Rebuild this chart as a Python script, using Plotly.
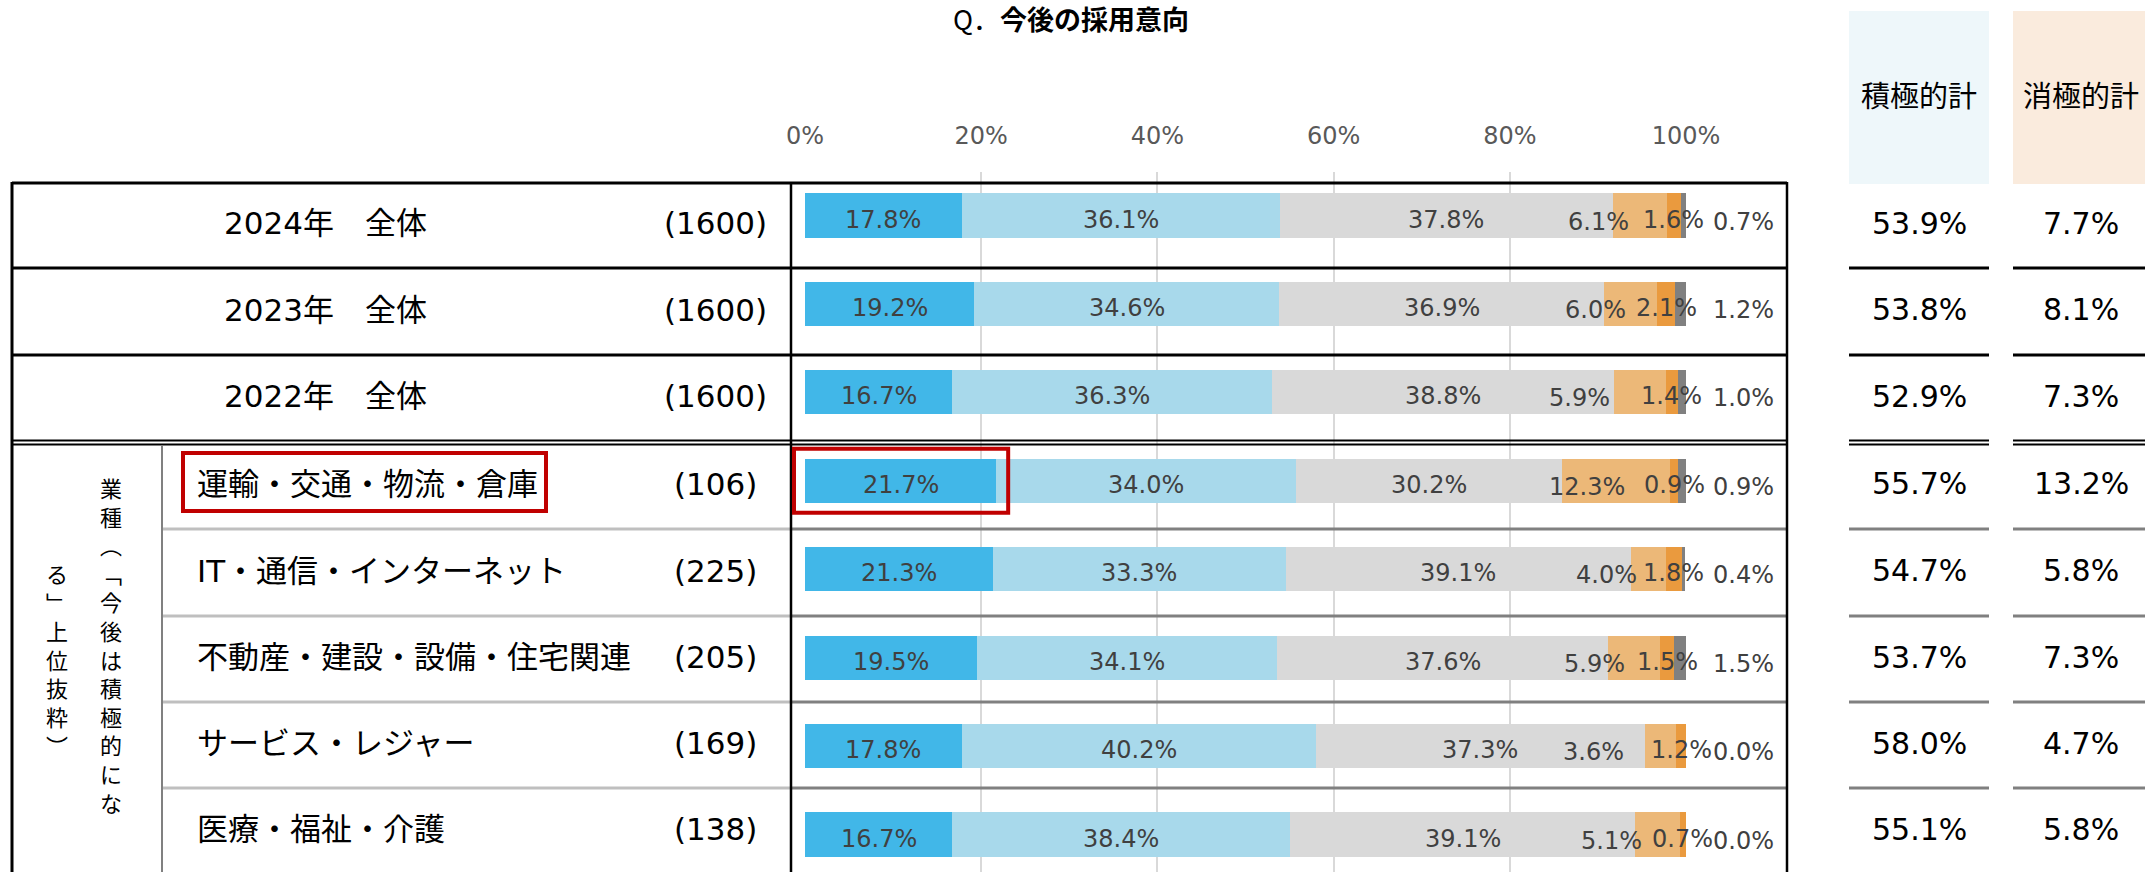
import plotly.graph_objects as go

# ---------------- data ----------------
categories = ["2024年　全体", "2023年　全体", "2022年　全体",
              "運輸・交通・物流・倉庫", "IT・通信・インターネット",
              "不動産・建設・設備・住宅関連", "サービス・レジャー", "医療・福祉・介護"]
sample_n = [1600, 1600, 1600, 106, 225, 205, 169, 138]
series_names = ["積極的に採用したい", "やや積極的に採用したい", "現状維持",
                "やや消極的", "消極的", "採用しない"]
s1 = [17.8, 19.2, 16.7, 21.7, 21.3, 19.5, 17.8, 16.7]
s2 = [36.1, 34.6, 36.3, 34.0, 33.3, 34.1, 40.2, 38.4]
s3 = [37.8, 36.9, 38.8, 30.2, 39.1, 37.6, 37.3, 39.1]
s4 = [6.1, 6.0, 5.9, 12.3, 4.0, 5.9, 3.6, 5.1]
s5 = [1.6, 2.1, 1.4, 0.9, 1.8, 1.5, 1.2, 0.7]
s6 = [0.7, 1.2, 1.0, 0.9, 0.4, 1.5, 0.0, 0.0]
positive_total = [53.9, 53.8, 52.9, 55.7, 54.7, 53.7, 58.0, 55.1]
negative_total = [7.7, 8.1, 7.3, 13.2, 5.8, 7.3, 4.7, 5.8]
tick_values = [0, 20, 40, 60, 80, 100]
tick_labels = ["0%", "20%", "40%", "60%", "80%", "100%"]
title_text = "Q．今後の採用意向"
header_pos = "積極的計"
header_neg = "消極的計"
group_label_col1 = ["業", "種", "︵", "﹁", "今", "後", "は", "積", "極", "的", "に", "な"]
group_label_col2 = ["る", "﹂", "上", "位", "抜", "粋", "︶"]

# ---------------- styles ----------------
W, H = 2145, 872
colors = ["#41B7E8", "#A8D9EB", "#D9D9D9", "#ECB878", "#EA9A3E", "#808080"]
NUM = "DejaVu Sans, Noto Sans CJK JP, sans-serif"
JP = "Noto Sans CJK JP, DejaVu Sans, sans-serif"
LBL = "#404040"
X0_PX, X100_PX = 805, 1686
PLOT_TOP = 172
seg4_nudge = [-41, -35, -60, -29, -42, -40, -67, -46]


def px(x):
    return x / W


def py(y):
    return 1 - y / H


def xpix(v):
    return X0_PX + v * (X100_PX - X0_PX) / 100.0


series = [s1, s2, s3, s4, s5, s6]
idx = list(range(len(categories)))

fig = go.Figure()
for name, vals, col in zip(series_names, series, colors):
    fig.add_trace(go.Bar(
        x=vals, y=idx, orientation="h", name=name, width=0.5,
        marker=dict(color=col, line=dict(width=0)), hoverinfo="skip"))

ann = []


def A(**kw):
    kw.setdefault("showarrow", False)
    kw.setdefault("xanchor", "center")
    kw.setdefault("yanchor", "middle")
    ann.append(kw)


# bar labels
for i in idx:
    cum = 0.0
    starts = []
    for s in series:
        starts.append(cum)
        cum += s[i]
    for k in range(3):
        A(x=starts[k] + series[k][i] / 2, y=i, xref="x", yref="y",
          text=f"{series[k][i]:.1f}%", font=dict(family=NUM, size=24, color=LBL), yshift=-4)
    A(x=starts[3] + s4[i] / 2, y=i, xref="x", yref="y", text=f"{s4[i]:.1f}%",
      xshift=seg4_nudge[i], font=dict(family=NUM, size=24, color=LBL), yshift=-6)
    A(x=starts[4] + s5[i] / 2, y=i, xref="x", yref="y", text=f"{s5[i]:.1f}%",
      font=dict(family=NUM, size=24, color=LBL), yshift=-4)
    A(x=100, y=i, xref="x", yref="y", xshift=57, text=f"{s6[i]:.1f}%",
      font=dict(family=NUM, size=24, color=LBL), yshift=-6)

# table rows
bounds = [183, 268, 355, 442, 529, 616, 702, 788, 874]
for i in idx:
    yc = (bounds[i] + bounds[i + 1]) / 2 - 2
    if i < 3:
        A(x=px(325), y=py(yc), xref="paper", yref="paper", text=categories[i],
          font=dict(family=NUM, size=31, color="black"))
    else:
        A(x=px(195), y=py(yc), xref="paper", yref="paper", text=categories[i],
          xanchor="left", font=dict(family=NUM, size=31, color="black"))
    A(x=px(715), y=py(yc), xref="paper", yref="paper", text=f"({sample_n[i]})",
      font=dict(family=NUM, size=31, color="black"))
    A(x=px(1919), y=py(yc), xref="paper", yref="paper", text=f"{positive_total[i]:.1f}%",
      font=dict(family=NUM, size=30, color="black"))
    A(x=px(2081), y=py(yc), xref="paper", yref="paper", text=f"{negative_total[i]:.1f}%",
      font=dict(family=NUM, size=30, color="black"))

# headers
A(x=px(1919), y=py(94), xref="paper", yref="paper", text=header_pos,
  font=dict(family=JP, size=29, color="black"))
A(x=px(2081), y=py(94), xref="paper", yref="paper", text=header_neg,
  font=dict(family=JP, size=29, color="black"))
# title
A(x=px(1071), y=py(18), xref="paper", yref="paper",
  text=title_text[:2] + "<b>" + title_text[2:] + "</b>",
  font=dict(family=JP, size=27, color="black"))
# vertical group label (stacked glyphs, one text per column)
PITCH = 28.6
A(x=px(111), y=py(487 + 5.5 * PITCH), xref="paper", yref="paper",
  text="<br>".join(group_label_col1), font=dict(family=JP, size=22, color="black"))
A(x=px(57), y=py(573 + 3 * PITCH), xref="paper", yref="paper",
  text="<br>".join(group_label_col2), font=dict(family=JP, size=22, color="black"))

shapes = []


def hline(y, x0, x1, color, w):
    shapes.append(dict(type="line", xref="paper", yref="paper", x0=px(x0), x1=px(x1),
                       y0=py(y), y1=py(y), line=dict(color=color, width=w)))


def vline(x, y0, y1, color, w):
    shapes.append(dict(type="line", xref="paper", yref="paper", x0=px(x), x1=px(x),
                       y0=py(y0), y1=py(y1), line=dict(color=color, width=w)))


def rect(x0, y0, x1, y1, fill=None, line=None, lw=0, layer="above"):
    shapes.append(dict(type="rect", xref="paper", yref="paper", x0=px(x0), x1=px(x1),
                       y0=py(y0), y1=py(y1), fillcolor=fill or "rgba(0,0,0,0)",
                       line=dict(color=line or "rgba(0,0,0,0)", width=lw), layer=layer))


# header backgrounds
rect(1849, 11, 1989, 184, fill="#EEF7FA", layer="below")
rect(2013, 11, 2145, 184, fill="#FAEBDD", layer="below")

# main table lines
for y in [183, 268, 355]:
    hline(y, 12, 1787, "black", 3)
for y in [440.5, 444.5]:
    hline(y, 12, 1787, "black", 2)
for y in [529, 616, 702, 788]:
    hline(y, 162, 791, "#BFBFBF", 3)
    hline(y, 791, 1787, "#808080", 3)
vline(12, 182, 872, "black", 3)
vline(791, 182, 872, "black", 2.5)
vline(1787, 182, 872, "black", 2.5)
vline(162, 445, 872, "#808080", 2)

# right table lines
for (a, b) in [(1849, 1989), (2013, 2145)]:
    for y in [268, 355]:
        hline(y, a, b, "black", 3)
    for y in [440.5, 444.5]:
        hline(y, a, b, "black", 2)
    for y in [529, 616, 702, 788]:
        hline(y, a, b, "#808080", 3)

# highlight boxes
rect(183, 453, 546, 511, line="#C00000", lw=4)
bar_c = PLOT_TOP + (3 + 0.4919) * 88.43
rect(xpix(0) - 11, bar_c - 32, xpix(s1[3]) + 12, bar_c + 32, line="#C00000", lw=4)

fig.update_layout(
    width=W, height=H, margin=dict(l=0, r=0, t=0, b=0, pad=0, autoexpand=False),
    autosize=False,
    paper_bgcolor="white", plot_bgcolor="white",
    barmode="stack", showlegend=False,
    annotations=ann, shapes=shapes,
    xaxis=dict(domain=[px(X0_PX), px(X100_PX)], range=[0, 100], side="top",
               tickmode="array", tickvals=tick_values, ticktext=tick_labels,
               tickfont=dict(family=NUM, size=24, color="#595959"),
               showgrid=True, gridcolor="#D9D9D9", gridwidth=2,
               zeroline=False, showline=False, ticks="", ticklabelstandoff=22,
               automargin=False, fixedrange=True),
    yaxis=dict(domain=[0, py(PLOT_TOP)], range=[7.424, -0.4919],
               showticklabels=False, showgrid=False, zeroline=False,
               automargin=False, fixedrange=True),
)

fig.write_html("out.html", config={"displayModeBar": False, "responsive": False},
               post_script="document.body.style.margin='0';document.body.style.overflow='hidden';")
